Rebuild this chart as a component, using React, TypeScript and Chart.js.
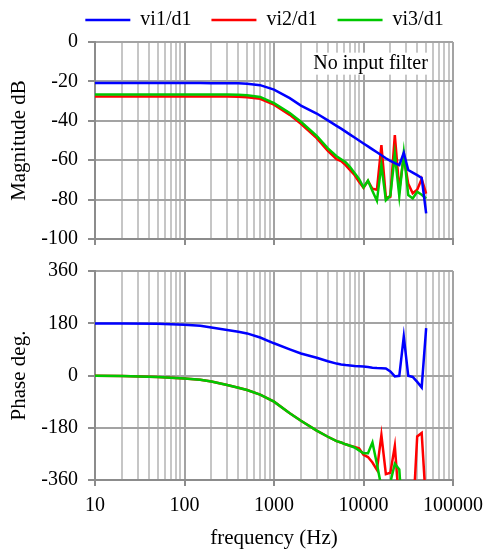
import React, { useEffect, useRef } from 'react';
import { Chart, registerables } from 'chart.js';

Chart.register(...registerables);
Chart.defaults.font.family = "'Liberation Serif', 'Times New Roman', serif";
Chart.defaults.color = '#000';

// ---------- data ----------
const freqHz = [10, 20, 50, 100, 150, 200, 300, 400, 500, 700, 1000, 1500, 2000, 3000, 4000, 5000,
  5623, 6310, 7079, 7943, 8913, 10000, 11220, 12589, 14125, 15849, 17783, 19953, 22387, 25119,
  28184, 31623, 35481, 39811, 44668, 50119];

const magVi1 = [-20.8, -20.8, -20.8, -20.8, -20.8, -20.9, -20.9, -21.0, -21.2, -21.9, -24.2, -28.5, -32.3, -36.3, -39.8, -42.6,
  -44, -45.5, -47, -48.5, -50, -51.5, -53, -54.5, -56, -57.5, -59, -60.3, -61.5, -62.5,
  -56.2, -65, -66.3, -67.6, -69, -87];
const magVi2 = [-27.7, -27.7, -27.7, -27.7, -27.7, -27.7, -27.7, -27.8, -28.0, -28.8, -31.8, -37, -41.5, -48.8, -55.3, -59.5,
  -60.5, -62.5, -65, -67.5, -71, -74, -70.5, -74.5, -75, -52.3, -79, -78.5, -47.2, -75.1,
  -58.2, -72, -76.8, -75, -69.5, -77];
const magVi3 = [-26.7, -26.7, -26.7, -26.7, -26.7, -26.7, -26.7, -26.8, -27.0, -27.9, -31, -36, -40.5, -47.7, -54, -58,
  -59.5, -61, -63.5, -66.5, -69.5, -73.8, -70.4, -75.6, -80.6, -62.4, -80.3, -78, -57, -78.2,
  -56.2, -77.7, -79.4, -76, -77.5, -79.4];

const phVi1 = [179.5, 179, 178, 175, 171, 165, 157, 151, 145, 131, 111, 90, 76, 61, 49, 41,
  38, 36, 34.5, 33, 32, 31, 29, 27, 25.5, 25, 24.5, 14, -3, -1,
  134, -1, -5, -22, -41, 163];
const phVi2 = [-0.5, -1.5, -5, -10, -15, -21, -33, -42, -50, -66, -90, -130, -156, -190, -211, -226,
  -231, -237, -242, -246, -251, -273, -281, -300, -325, -205, -340, -335, -243, -450,
  -500, -500, -500, -210, -198, -450];
const phVi3 = [-0.5, -1.5, -5, -10, -15, -21, -33, -42, -50, -66, -90, -130, -156, -190, -211, -226,
  -231, -237, -242, -248, -258, -268, -268, -231, -305, -385, -420, -368, -304, -324,
  -550, -550, -550, -550, -550, -550];

const seriesNames = ['vi1/d1', 'vi2/d1', 'vi3/d1'];
const seriesColors = ['#0000ff', '#ff0000', '#00c800'];
const seriesOrder = [0, 2, 1]; // green drawn over red

const xTickLabels = ['10', '100', '1000', '10000', '100000'];
const magTicks = [0, -20, -40, -60, -80, -100];
const phaseTicks = [360, 180, 0, -180, -360];

const noteText = 'No input filter';
const noteAt = { x: 12000, y: -11 };

// ---------- styling ----------
const FONT_TICK = { size: 20 };
const FONT_TITLE = { size: 21 };
const MAJOR_GRID = '#a3a3a3';
const MINOR_GRID = '#c6c6c6';
const AXIS = '#8c8c8c';
const LEFT_W = 95;
const RIGHT_PAD = 32;

const isDecade = (v: number) => {
  const l = Math.log10(v);
  return Math.abs(l - Math.round(l)) < 1e-6;
};

const gridFreqs: number[] = [];
for (let d = 10; d < 100000; d *= 10) for (let m = 1; m < 10; m++) gridFreqs.push(d * m);
gridFreqs.push(100000);

const pts = (ys: number[]) => freqHz.map((f, i) => ({ x: f, y: ys[i] }));

const makeDatasets = (series: number[][]) =>
  series.map((ys, i) => ({
    label: seriesNames[i],
    data: pts(ys),
    borderColor: seriesColors[i],
    backgroundColor: seriesColors[i],
    borderWidth: 2.5,
    pointRadius: 0,
    tension: 0,
    fill: false,
    order: seriesOrder[i],
  }));

const xScale = (showLabels: boolean, height: number) => ({
  type: 'logarithmic' as const,
  min: 10,
  max: 100000,
  afterBuildTicks: (s: any) => {
    s.ticks = gridFreqs.map((v) => ({ value: v, major: isDecade(v) }));
  },
  afterFit: (s: any) => {
    s.height = height;
    s.paddingLeft = 0;
    s.paddingRight = 0;
  },
  ticks: {
    display: showLabels,
    autoSkip: false,
    maxRotation: 0,
    minRotation: 0,
    padding: 8,
    font: FONT_TICK,
    color: '#000',
    callback: (v: any) => (isDecade(Number(v)) ? xTickLabels[Math.round(Math.log10(Number(v))) - 1] : ''),
  },
  grid: {
    color: (c: any) => (c.tick && isDecade(c.tick.value) ? MAJOR_GRID : MINOR_GRID),
    tickColor: (c: any) => (c.tick && isDecade(c.tick.value) ? AXIS : 'rgba(0,0,0,0)'),
    lineWidth: 2,
    tickLength: 6,
  },
  border: { display: true, color: AXIS, width: 2 },
  title: showLabels
    ? { display: true, text: 'frequency (Hz)', font: FONT_TITLE, color: '#000', padding: { top: 0, bottom: 0 } }
    : { display: false },
});

const yScale = (min: number, max: number, tickVals: number[], title: string) => ({
  type: 'linear' as const,
  min,
  max,
  afterBuildTicks: (s: any) => {
    s.ticks = [...tickVals].sort((a, b) => a - b).map((v) => ({ value: v }));
  },
  afterFit: (s: any) => {
    s.width = LEFT_W;
    s.paddingTop = 0;
    s.paddingBottom = 0;
  },
  ticks: { font: FONT_TICK, color: '#000', padding: 10 },
  grid: { color: MAJOR_GRID, tickColor: AXIS, lineWidth: 2, tickLength: 7 },
  border: { display: true, color: AXIS, width: 2 },
  title: { display: true, text: title, font: FONT_TITLE, color: '#000', padding: { top: 7, bottom: 0 } },
});

const LEGEND_H = 42;
const LEGEND_DX = 38;
const LEGEND_DY = -10;

const legendTweak = {
  id: 'legendTweak',
  afterInit(chart: any) {
    const lg = chart.legend;
    if (!lg) return;
    const fit0 = lg.fit.bind(lg);
    lg.fit = function () {
      fit0();
      this.height = LEGEND_H;
    };
    const draw0 = lg.draw.bind(lg);
    lg.draw = function () {
      const ctx = this.ctx;
      ctx.save();
      ctx.translate(LEGEND_DX, LEGEND_DY);
      draw0();
      ctx.restore();
    };
  },
};

const notePlugin = {
  id: 'notePlugin',
  beforeDatasetsDraw(chart: any) {
    const { ctx, scales } = chart;
    const px = scales.x.getPixelForValue(noteAt.x);
    const py = scales.y.getPixelForValue(noteAt.y);
    ctx.save();
    ctx.font = "20px 'Liberation Serif', 'Times New Roman', serif";
    const w = ctx.measureText(noteText).width;
    ctx.fillStyle = '#fff';
    ctx.fillRect(px - w / 2 - 3, py - 11, w + 6, 22);
    ctx.fillStyle = '#000';
    ctx.textAlign = 'center';
    ctx.textBaseline = 'middle';
    ctx.fillText(noteText, px, py);
    ctx.restore();
  },
};

export default function App() {
  const topRef = useRef<HTMLCanvasElement>(null);
  const botRef = useRef<HTMLCanvasElement>(null);

  useEffect(() => {
    const top = new Chart(topRef.current as HTMLCanvasElement, {
      type: 'line',
      data: { datasets: makeDatasets([magVi1, magVi2, magVi3]) as any },
      options: {
        responsive: false,
        animation: false,
        events: [],
        layout: { padding: { left: 0, right: RIGHT_PAD, top: 0, bottom: 0 } },
        scales: {
          x: xScale(false, 23) as any,
          y: yScale(-100, 0, magTicks, 'Magnitude dB') as any,
        },
        plugins: {
          tooltip: { enabled: false },
          legend: {
            display: true,
            position: 'top',
            labels: {
              usePointStyle: true,
              pointStyle: 'line',
              pointStyleWidth: 45,
              padding: 20,
              font: { size: 20 },
              color: '#000',
              sort: (a: any, b: any) => a.datasetIndex - b.datasetIndex,
            },
          },
        },
      },
      plugins: [legendTweak, notePlugin],
    });

    const bot = new Chart(botRef.current as HTMLCanvasElement, {
      type: 'line',
      data: { datasets: makeDatasets([phVi1, phVi2, phVi3]) as any },
      options: {
        responsive: false,
        animation: false,
        events: [],
        layout: { padding: { left: 0, right: RIGHT_PAD, top: 21, bottom: 0 } },
        scales: {
          x: xScale(true, 71) as any,
          y: yScale(-360, 360, phaseTicks, 'Phase deg.') as any,
        },
        plugins: {
          tooltip: { enabled: false },
          legend: { display: false },
        },
      },
    });

    return () => {
      top.destroy();
      bot.destroy();
    };
  }, []);

  return (
    <div style={{ position: 'absolute', left: 0, top: 0, width: 485, height: 551, background: '#fff' }}>
      <canvas ref={topRef} width={485} height={262} style={{ position: 'absolute', left: 0, top: 0 }} />
      <canvas ref={botRef} width={485} height={301} style={{ position: 'absolute', left: 0, top: 250 }} />
    </div>
  );
}
